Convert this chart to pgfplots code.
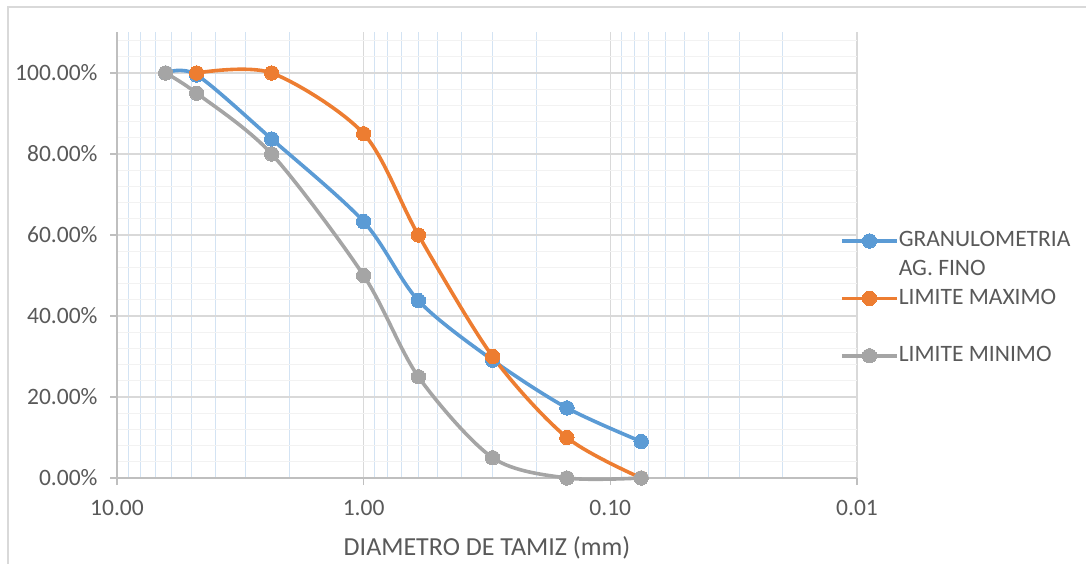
\documentclass[border=0pt]{standalone}
\usepackage{fontspec}
\setmainfont{Carlito}
\usepackage{pgfplots}
\pgfplotsset{compat=1.18}

\definecolor{serA}{HTML}{5B9BD5}
\definecolor{serB}{HTML}{ED7D31}
\definecolor{serC}{HTML}{A5A5A5}
\definecolor{txt}{HTML}{595959}
\definecolor{gmaj}{HTML}{D9D9D9}
\definecolor{gmin}{HTML}{F2F2F2}
\definecolor{gminx}{HTML}{D3E3F3}
\definecolor{axln}{HTML}{BFBFBF}

\newcommand\tickfont{\fontsize{23.5bp}{28.7bp}\selectfont}
\newcommand\titlefont{\fontsize{26bp}{31bp}\selectfont}

% percent passing vs. sieve opening (mm)
\pgfplotstableread{
d     p
6.35  1.000
4.75  0.995
2.36  0.837
1.00  0.633
0.60  0.438
0.30  0.291
0.15  0.173
0.075 0.090
}\granulometria
\pgfplotstableread{
d     p
4.75  1.00
2.36  1.00
1.00  0.85
0.60  0.60
0.30  0.30
0.15  0.10
0.075 0.00
}\limmax
\pgfplotstableread{
d     p
6.35  1.00
4.75  0.95
2.36  0.80
1.00  0.50
0.60  0.25
0.30  0.05
0.15  0.00
0.075 0.00
}\limmin

\tikzset{
  serie/.style={#1, line width=3.6bp, smooth, tension=0.5,
    mark=*, mark size=7.2bp, mark options={solid, fill=#1, draw=#1, line width=0pt}},
}

\begin{document}
\begin{tikzpicture}
\useasboundingbox (-117bp,-86bp) rectangle (969bp,478bp);
\begin{axis}[
  scale only axis, width=740bp, height=445.5bp,
  xmode=log, x dir=reverse, xmin=0.01, xmax=10,
  ymin=0, ymax=1.1,
  clip=false,
  axis x line*=bottom, axis y line*=left,
  axis line style={axln, line width=1.2bp, -},
  xtick={10,1,0.1,0.01}, xticklabels={10.00,1.00,0.10,0.01},
  minor xtick={2,3,4,5,6,7,8,9,0.2,0.3,0.4,0.5,0.6,0.7,0.8,0.9,0.02,0.03,0.04,0.05,0.06,0.07,0.08,0.09},
  ytick={0,0.2,0.4,0.6,0.8,1.0},
  yticklabels={0.00\%,20.00\%,40.00\%,60.00\%,80.00\%,100.00\%},
  minor ytick={0.04,0.08,0.12,0.16,0.24,0.28,0.32,0.36,0.44,0.48,0.52,0.56,0.64,0.68,0.72,0.76,0.84,0.88,0.92,0.96,1.04,1.08},
  grid=both,
  major x grid style={gmaj, line width=1.2bp},
  minor x grid style={gminx, line width=1bp},
  major y grid style={gmaj, line width=1.2bp},
  minor y grid style={gmin, line width=1bp},
  tick align=outside,
  major tick length=7bp, minor tick length=0pt,
  tick style={axln, line width=1.2bp},
  ticklabel style={font=\tickfont, text=txt},
  xticklabel style={yshift=-12bp},
  yticklabel style={xshift=-9bp},
  xlabel={DIAMETRO DE TAMIZ (mm)},
  xlabel style={font=\titlefont, text=txt, at={(axis description cs:0.5,0)}, anchor=center, yshift=-70bp},
  legend style={at={(axis description cs:0.977,0.558)}, anchor=north west,
    draw=none, fill=none, inner sep=0pt, row sep=0pt,
    font=\tickfont, text=txt,
    nodes={inner sep=0pt, text height=17bp, text depth=11.7bp}},
  legend cell align=left,
  legend image code/.code={
    \draw[#1, mark=none] (-4bp,3bp) -- (51bp,3bp);
    \draw[#1, only marks] plot coordinates {(23.5bp,3bp)};
  },
]
\addplot[serie=serA, forget plot] table[x=d, y=p] {\granulometria};
\addplot[serie=serB, forget plot] table[x=d, y=p] {\limmax};
\addplot[serie=serC, forget plot] table[x=d, y=p] {\limmin};

\addlegendimage{serie=serA}
\addlegendentry{GRANULOMETRIA}
\addlegendimage{empty legend}
\addlegendentry{AG. FINO}
\addlegendimage{serie=serB}
\addlegendentry{LIMITE MAXIMO}
\addlegendimage{empty legend}
\addlegendentry{}
\addlegendimage{serie=serC}
\addlegendentry{LIMITE MINIMO}
\end{axis}
% chart area frame
\draw[gmaj, line width=1.2bp] (-109bp,-90bp) -- (-109bp,471bp) -- (975bp,471bp);
\end{tikzpicture}
\end{document}
